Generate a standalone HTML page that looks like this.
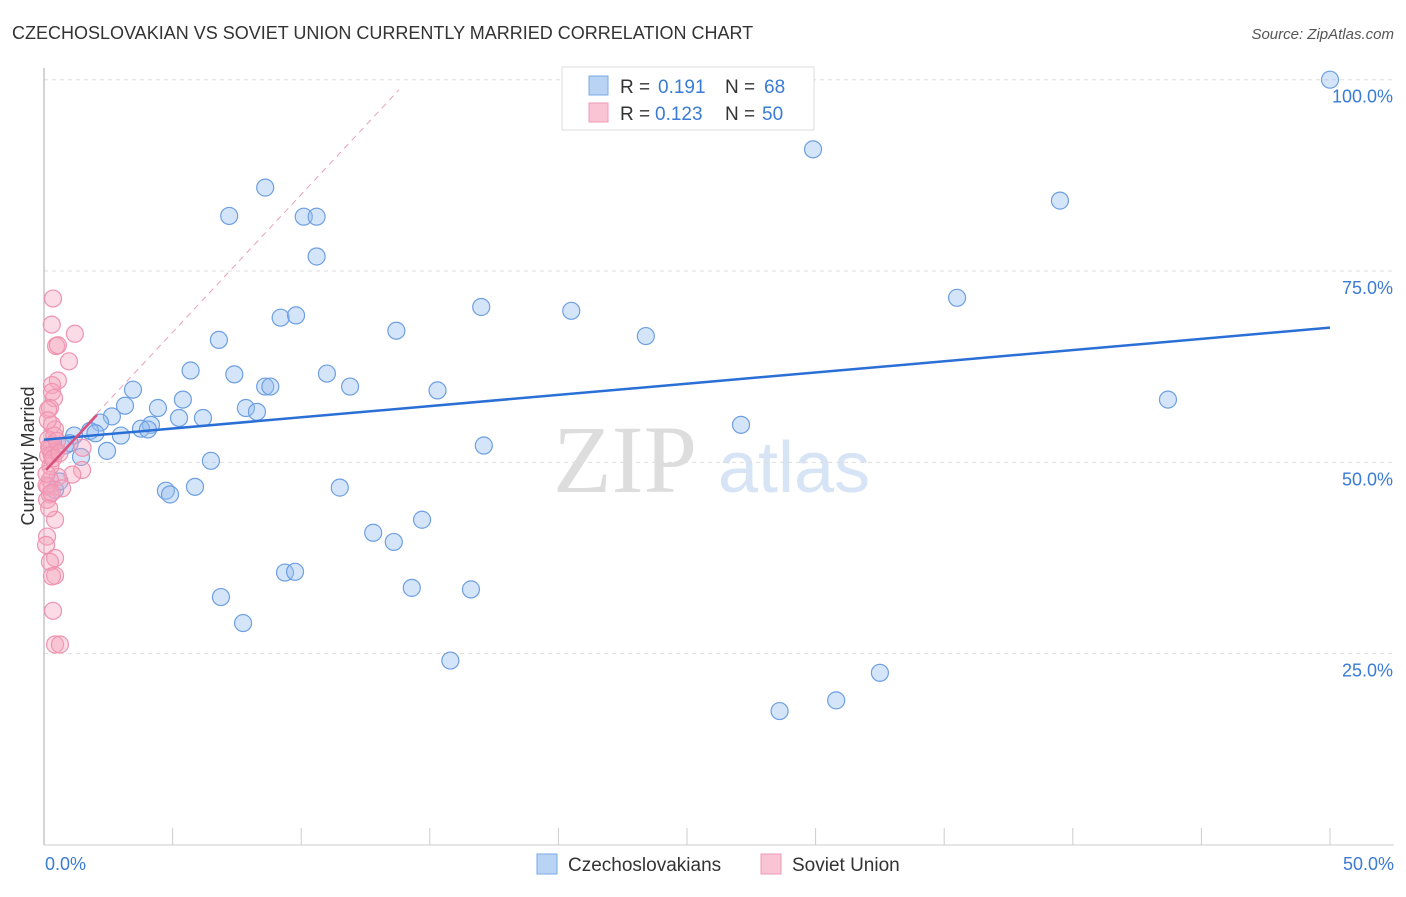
<!DOCTYPE html>
<html><head><meta charset="utf-8"><style>
body{margin:0;background:#fff;font-family:"Liberation Sans",sans-serif;}
svg text{font-family:"Liberation Sans",sans-serif;}
</style></head><body>
<svg width="1406" height="892" id="chart">
<text x="12" y="39" font-size="18" fill="#333">CZECHOSLOVAKIAN VS SOVIET UNION CURRENTLY MARRIED CORRELATION CHART</text>
<text x="1394" y="39" font-size="15" fill="#555" text-anchor="end" font-style="italic">Source: ZipAtlas.com</text>
<text x="34" y="456" font-size="18" fill="#333" text-anchor="middle" transform="rotate(-90 34 456)">Currently Married</text>
<text x="553" y="492" font-size="96" fill="#ddd" style="font-family:'Liberation Serif',serif">ZIP</text>
<text x="718" y="492" font-size="72" fill="#d6e4f5">atlas</text>
<g id="grid"></g><g id="ticks"></g>
<line x1="44" y1="68" x2="44" y2="845" stroke="#aaa"/>
<line x1="44" y1="845" x2="1394" y2="845" stroke="#ccc"/>
<g id="pts"></g><g id="lines"></g>
<text x="45" y="870" font-size="18" fill="#3a7bd5">0.0%</text>
<text x="1394" y="870" font-size="18" fill="#3a7bd5" text-anchor="end">50.0%</text>
<g>
<rect x="562" y="67" width="252" height="63" fill="#fff" stroke="#ddd"/>
<rect x="589" y="76" width="19" height="19" fill="#b9d3f4" stroke="#7aa8e6"/>
<rect x="589" y="103" width="19" height="19" fill="#f9c4d4" stroke="#ee9ab4"/>
<text x="620" y="93" font-size="19" fill="#333">R =</text>
<text x="658" y="93" font-size="19" fill="#3a7bd5">0.191</text>
<text x="725" y="93" font-size="19" fill="#333">N =</text>
<text x="764" y="93" font-size="19" fill="#3a7bd5">68</text>
<text x="620" y="120" font-size="19" fill="#333">R =</text>
<text x="655" y="120" font-size="19" fill="#3a7bd5">0.123</text>
<text x="725" y="120" font-size="19" fill="#333">N =</text>
<text x="762" y="120" font-size="19" fill="#3a7bd5">50</text>
</g>
<g>
<rect x="537" y="854" width="20" height="20" fill="#b9d3f4" stroke="#7aa8e6"/>
<text x="568" y="871" font-size="19" fill="#333">Czechoslovakians</text>
<rect x="761" y="854" width="20" height="20" fill="#f9c4d4" stroke="#ee9ab4"/>
<text x="792" y="871" font-size="19" fill="#333">Soviet Union</text>
</g>
</svg>
<script>
const yTicks=[25,50,75,100];
const yTickLabels=["25.0%","50.0%","75.0%","100.0%"];
const blueX=[50,29.9,39.5,8.6,7.2,10.1,10.6,10.6,35.5,17.0,20.5,9.2,9.8,13.7,23.4,6.8,5.7,7.4,11.0,8.6,8.8,11.9,15.3,43.7,3.46,3.15,5.4,4.43,7.85,8.28,2.64,5.25,6.18,27.1,4.16,2.18,3.77,4.04,1.79,2.99,1.17,0.82,17.1,2.45,1.44,6.49,0.43,4.74,4.9,5.87,11.5,14.7,12.8,13.6,9.37,9.76,14.3,16.6,6.88,7.74,15.8,32.5,30.8,28.6,25.0,0.6,1.0,2.0];
const blueY=[100,90.9,84.2,85.9,82.2,82.1,82.1,76.9,71.5,70.3,69.8,68.9,69.2,67.2,66.5,66.0,62.0,61.5,61.6,59.9,59.9,59.9,59.4,58.2,59.5,57.4,58.2,57.1,57.1,56.6,56.0,55.8,55.8,54.9,54.9,55.2,54.4,54.3,54.1,53.5,53.5,52.2,52.2,51.5,50.7,50.2,46.4,46.3,45.8,46.8,46.7,42.5,40.8,39.6,35.6,35.7,33.6,33.4,32.4,29.0,24.1,22.5,18.9,17.5,99.7,47.5,52.5,53.8];
const pinkX=[0.35,0.3,1.2,0.47,0.54,0.97,0.54,0.31,0.31,0.39,0.23,0.16,0.31,0.43,0.16,0.31,1.5,0.23,0.47,0.16,1.48,1.1,0.54,0.23,0.16,0.7,0.23,0.12,0.43,0.12,0.08,0.43,0.23,0.43,0.31,0.35,0.43,0.62,0.2,0.3,0.1,0.25,0.4,0.15,0.35,0.2,0.5,0.1,0.3,0.6];
const pinkY=[71.4,68.0,66.8,65.2,65.3,63.2,60.7,60.1,59.2,58.4,57.1,56.9,54.9,54.3,53.0,52.3,51.9,51.7,51.4,50.9,49.0,48.4,48.1,47.7,46.8,46.6,45.8,45.1,42.5,40.3,39.2,37.5,37.0,35.2,35.1,30.6,26.2,26.2,52.0,51.0,47.0,49.5,53.5,55.5,50.5,44.0,52.8,48.5,46.0,51.2];
const blueTrend=[52.96,67.6];
const pinkTrend=[49.0,56.2];
const X=v=>44+v*25.72, Y=v=>845-v*7.653;
const NS="http://www.w3.org/2000/svg";
function mk(t,a,p){const e=document.createElementNS(NS,t);for(const k in a)e.setAttribute(k,a[k]);document.getElementById(p).appendChild(e);return e;}
yTicks.forEach((t,i)=>{
 const l=mk('line',{x1:44,x2:1394,y1:Y(t),y2:Y(t),stroke:'#ddd','stroke-dasharray':'4,4'},'grid');
 
 
 const tx=mk('text',{x:1393,y:Y(t)+23,'font-size':18,fill:'#3a7bd5','text-anchor':'end'},'grid');
 tx.textContent=yTickLabels[i];
 
 
});
for(let i=0;i<=10;i++){
 const l=mk('line',{x1:X(i*5),x2:X(i*5),y1:828,y2:845,stroke:'#ccc'},'ticks');
 
 
}
blueX.forEach((x,i)=>{
 const c=mk('circle',{cx:X(x),cy:Y(blueY[i]),r:8.5,fill:'rgba(150,190,240,0.4)',stroke:'#6d9fe2','stroke-width':1.2},'pts');
 
 
});
pinkX.forEach((x,i)=>{
 const c=mk('circle',{cx:X(x),cy:Y(pinkY[i]),r:8.5,fill:'rgba(245,165,190,0.4)',stroke:'#ef93b0','stroke-width':1.2},'pts');
 
 
});
const d=mk('line',{x1:X(0),y1:Y(pinkTrend[0]),x2:X(13.8),y2:Y(pinkTrend[0]+(pinkTrend[1]-pinkTrend[0])/2*13.8),stroke:'#e9a0b5','stroke-dasharray':'6,5'},'lines');


const bl=mk('line',{x1:X(0),y1:Y(blueTrend[0]),x2:X(50),y2:Y(blueTrend[1]),stroke:'#2a6fd6','stroke-width':2.5},'lines');


const pl=mk('line',{x1:X(0.08),y1:Y(pinkTrend[0]),x2:X(2.06),y2:Y(pinkTrend[1]),stroke:'#d9507e','stroke-width':2.5},'lines');


</script>
</body></html>
